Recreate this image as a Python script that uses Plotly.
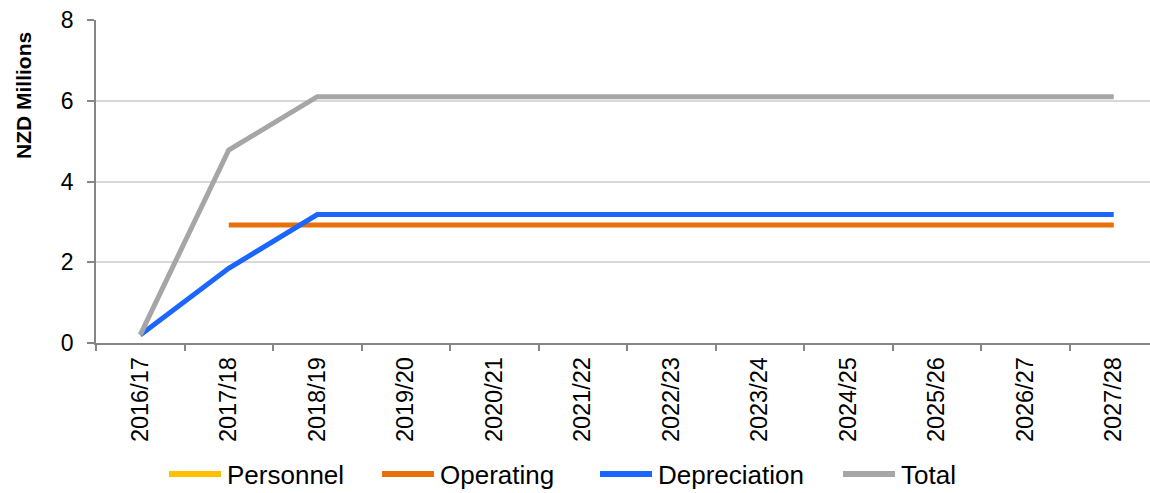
import plotly.graph_objects as go

years = ["2016/17", "2017/18", "2018/19", "2019/20", "2020/21", "2021/22",
         "2022/23", "2023/24", "2024/25", "2025/26", "2026/27", "2027/28"]
personnel = [None] * 12
operating = [None, 2.92, 2.92, 2.92, 2.92, 2.92, 2.92, 2.92, 2.92, 2.92, 2.92, 2.92]
depreciation = [0.2, 1.85, 3.18, 3.18, 3.18, 3.18, 3.18, 3.18, 3.18, 3.18, 3.18, 3.18]
total = [0.2, 4.78, 6.1, 6.1, 6.1, 6.1, 6.1, 6.1, 6.1, 6.1, 6.1, 6.1]

series_names = ["Personnel", "Operating", "Depreciation", "Total"]
series_values = [personnel, operating, depreciation, total]
series_colors = ["#FFC000", "#E8700A", "#1A66FF", "#A6A6A6"]

# layout geometry (pixels)
W, H = 1150, 493
ML, MT, MB = 96, 20, 150
PW = W - ML
PH = H - MT - MB

def px_x(p):
    return (p - ML) / PW

def px_y(p):
    return (H - MB - p) / PH

fig = go.Figure()
for name, vals, col in zip(series_names, series_values, series_colors):
    fig.add_trace(go.Scatter(
        x=years, y=vals, name=name, mode="lines",
        line=dict(color=col, width=5),
        connectgaps=False, showlegend=False,
    ))

# custom legend (longer line keys as in the reference)
legend_line_x = [167, 380, 598, 841]
legend_y = 474
shapes = []
annotations = []
for name, col, lx in zip(series_names, series_colors, legend_line_x):
    shapes.append(dict(type="line", xref="paper", yref="paper",
                       x0=px_x(lx + 2), x1=px_x(lx + 54),
                       y0=px_y(legend_y), y1=px_y(legend_y),
                       line=dict(color=col, width=6)))
    annotations.append(dict(text=name, xref="paper", yref="paper",
                            x=px_x(lx + 58), y=px_y(legend_y + 1),
                            xanchor="left", yanchor="middle", showarrow=False,
                            font=dict(size=26, color="#000000")))

annotations.append(dict(text="<b>NZD Millions</b>", xref="paper", yref="paper",
                        x=px_x(23), y=px_y(96), xanchor="center", yanchor="middle",
                        textangle=-90, showarrow=False,
                        font=dict(size=21, color="#000000")))

fig.update_layout(
    width=W, height=H,
    margin=dict(l=ML, r=0, t=MT, b=MB),
    paper_bgcolor="white", plot_bgcolor="white",
    font=dict(family="Liberation Sans, Arial, sans-serif", color="#000000"),
    showlegend=False,
    shapes=shapes,
    annotations=annotations,
)
fig.update_xaxes(
    type="category", range=[-0.5, -0.5 + PW / 88.5],
    showline=True, linecolor="#868686", linewidth=1.5,
    ticks="outside", ticklen=6, tickcolor="#868686", tickwidth=1.5,
    tickson="boundaries", tickangle=-90, tickfont=dict(size=23.5),
    showgrid=False, ticklabelstandoff=3,
)
fig.update_yaxes(
    range=[0, 8], dtick=2, tickformat="d",
    showline=True, linecolor="#868686", linewidth=1.5,
    ticks="outside", ticklen=7, tickcolor="#868686", tickwidth=1.5,
    showgrid=True, gridcolor="#D9D9D9", gridwidth=1.5,
    tickfont=dict(size=23), ticklabelstandoff=9,
    zeroline=False,
)

fig.write_html("out.html")
